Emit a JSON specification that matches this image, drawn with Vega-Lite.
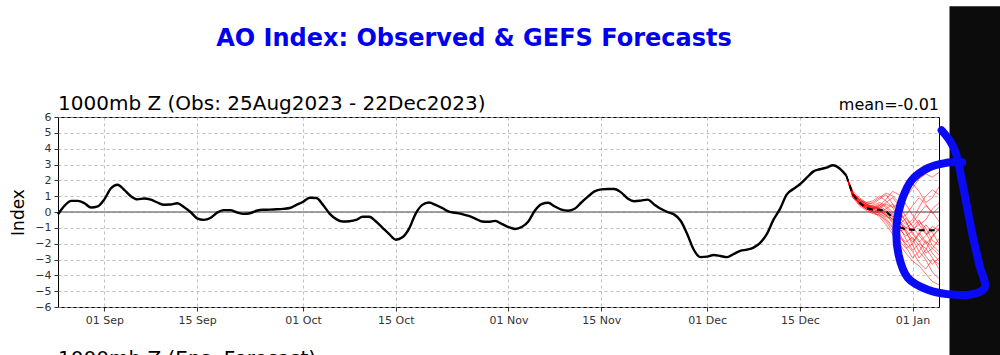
{
"$schema": "https://vega.github.io/schema/vega-lite/v6.json",
"width": 881, "height": 190,
"autosize": {"type": "none"},
"padding": {"left": 58, "top": 117, "right": 61, "bottom": 48},
"background": "white",
"config": {"view": {"stroke": "#000", "strokeWidth": 1, "fill": "white"}, "font": "DejaVu Sans"},
"datasets": {
"obs": [
{"d":"2023-08-25","v":-0.15},{"d":"2023-08-26","v":0.4},{"d":"2023-08-27","v":0.7},{"d":"2023-08-28","v":0.7},{"d":"2023-08-29","v":0.55},{"d":"2023-08-30","v":0.28},{"d":"2023-08-31","v":0.35},
{"d":"2023-09-01","v":0.8},{"d":"2023-09-02","v":1.5},{"d":"2023-09-03","v":1.72},{"d":"2023-09-04","v":1.4},{"d":"2023-09-05","v":1.0},{"d":"2023-09-06","v":0.8},{"d":"2023-09-07","v":0.85},{"d":"2023-09-08","v":0.78},{"d":"2023-09-09","v":0.6},{"d":"2023-09-10","v":0.46},{"d":"2023-09-11","v":0.47},{"d":"2023-09-12","v":0.55},{"d":"2023-09-13","v":0.32},{"d":"2023-09-14","v":0.0},{"d":"2023-09-15","v":-0.4},{"d":"2023-09-16","v":-0.5},{"d":"2023-09-17","v":-0.38},{"d":"2023-09-18","v":-0.05},{"d":"2023-09-19","v":0.12},{"d":"2023-09-20","v":0.12},{"d":"2023-09-21","v":-0.02},{"d":"2023-09-22","v":-0.12},{"d":"2023-09-23","v":-0.08},{"d":"2023-09-24","v":0.08},{"d":"2023-09-25","v":0.14},{"d":"2023-09-26","v":0.15},{"d":"2023-09-27","v":0.17},{"d":"2023-09-28","v":0.2},{"d":"2023-09-29","v":0.25},{"d":"2023-09-30","v":0.45},
{"d":"2023-10-01","v":0.65},{"d":"2023-10-02","v":0.9},{"d":"2023-10-03","v":0.88},{"d":"2023-10-04","v":0.45},{"d":"2023-10-05","v":-0.1},{"d":"2023-10-06","v":-0.45},{"d":"2023-10-07","v":-0.6},{"d":"2023-10-08","v":-0.58},{"d":"2023-10-09","v":-0.5},{"d":"2023-10-10","v":-0.3},{"d":"2023-10-11","v":-0.3},{"d":"2023-10-12","v":-0.6},{"d":"2023-10-13","v":-1.0},{"d":"2023-10-14","v":-1.4},{"d":"2023-10-15","v":-1.75},{"d":"2023-10-16","v":-1.6},{"d":"2023-10-17","v":-1.05},{"d":"2023-10-18","v":-0.1},{"d":"2023-10-19","v":0.45},{"d":"2023-10-20","v":0.6},{"d":"2023-10-21","v":0.45},{"d":"2023-10-22","v":0.25},{"d":"2023-10-23","v":0.03},{"d":"2023-10-24","v":-0.05},{"d":"2023-10-25","v":-0.13},{"d":"2023-10-26","v":-0.25},{"d":"2023-10-27","v":-0.42},{"d":"2023-10-28","v":-0.6},{"d":"2023-10-29","v":-0.62},{"d":"2023-10-30","v":-0.56},{"d":"2023-10-31","v":-0.75},
{"d":"2023-11-01","v":-0.95},{"d":"2023-11-02","v":-1.07},{"d":"2023-11-03","v":-0.95},{"d":"2023-11-04","v":-0.6},{"d":"2023-11-05","v":0.1},{"d":"2023-11-06","v":0.5},{"d":"2023-11-07","v":0.58},{"d":"2023-11-08","v":0.35},{"d":"2023-11-09","v":0.15},{"d":"2023-11-10","v":0.08},{"d":"2023-11-11","v":0.2},{"d":"2023-11-12","v":0.6},{"d":"2023-11-13","v":0.97},{"d":"2023-11-14","v":1.3},{"d":"2023-11-15","v":1.43},{"d":"2023-11-16","v":1.45},{"d":"2023-11-17","v":1.45},{"d":"2023-11-18","v":1.24},{"d":"2023-11-19","v":0.86},{"d":"2023-11-20","v":0.68},{"d":"2023-11-21","v":0.72},{"d":"2023-11-22","v":0.78},{"d":"2023-11-23","v":0.48},{"d":"2023-11-24","v":0.2},{"d":"2023-11-25","v":0.0},{"d":"2023-11-26","v":-0.15},{"d":"2023-11-27","v":-0.55},{"d":"2023-11-28","v":-1.4},{"d":"2023-11-29","v":-2.4},{"d":"2023-11-30","v":-2.85},
{"d":"2023-12-01","v":-2.82},{"d":"2023-12-02","v":-2.72},{"d":"2023-12-03","v":-2.78},{"d":"2023-12-04","v":-2.85},{"d":"2023-12-05","v":-2.65},{"d":"2023-12-06","v":-2.45},{"d":"2023-12-07","v":-2.38},{"d":"2023-12-08","v":-2.25},{"d":"2023-12-09","v":-1.95},{"d":"2023-12-10","v":-1.4},{"d":"2023-12-11","v":-0.5},{"d":"2023-12-12","v":0.2},{"d":"2023-12-13","v":1.1},{"d":"2023-12-14","v":1.45},{"d":"2023-12-15","v":1.75},{"d":"2023-12-16","v":2.15},{"d":"2023-12-17","v":2.55},{"d":"2023-12-18","v":2.7},{"d":"2023-12-19","v":2.8},{"d":"2023-12-20","v":2.95},{"d":"2023-12-21","v":2.75},{"d":"2023-12-22","v":2.3}
],
"mean": [
{"d":"2023-12-22","v":2.3},{"d":"2023-12-23","v":1.1},{"d":"2023-12-24","v":0.6},{"d":"2023-12-25","v":0.25},{"d":"2023-12-26","v":0.15},{"d":"2023-12-27","v":0.15},{"d":"2023-12-28","v":0.05},{"d":"2023-12-29","v":-0.35},{"d":"2023-12-30","v":-0.95},{"d":"2023-12-31","v":-1.1},{"d":"2024-01-01","v":-1.12},{"d":"2024-01-02","v":-1.15},{"d":"2024-01-03","v":-1.15},{"d":"2024-01-04","v":-1.15},{"d":"2024-01-05","v":-1.15}
],
"ens": [
{"m":"e1","d":"2023-12-22","v":2.3},{"m":"e1","d":"2023-12-23","v":1.2},{"m":"e1","d":"2023-12-24","v":0.8},{"m":"e1","d":"2023-12-25","v":0.5},{"m":"e1","d":"2023-12-26","v":0.6},{"m":"e1","d":"2023-12-27","v":0.9},{"m":"e1","d":"2023-12-28","v":1.2},{"m":"e1","d":"2023-12-29","v":1.0},{"m":"e1","d":"2023-12-30","v":0.6},{"m":"e1","d":"2023-12-31","v":0.9},{"m":"e1","d":"2024-01-01","v":1.5},{"m":"e1","d":"2024-01-02","v":2.1},{"m":"e1","d":"2024-01-03","v":2.4},{"m":"e1","d":"2024-01-04","v":2.2},{"m":"e1","d":"2024-01-05","v":2.5},
{"m":"e2","d":"2023-12-22","v":2.3},{"m":"e2","d":"2023-12-23","v":1.1},{"m":"e2","d":"2023-12-24","v":0.6},{"m":"e2","d":"2023-12-25","v":0.3},{"m":"e2","d":"2023-12-26","v":0.2},{"m":"e2","d":"2023-12-27","v":0.4},{"m":"e2","d":"2023-12-28","v":0.8},{"m":"e2","d":"2023-12-29","v":1.3},{"m":"e2","d":"2023-12-30","v":1.1},{"m":"e2","d":"2023-12-31","v":0.5},{"m":"e2","d":"2024-01-01","v":-0.2},{"m":"e2","d":"2024-01-02","v":-0.8},{"m":"e2","d":"2024-01-03","v":-0.5},{"m":"e2","d":"2024-01-04","v":0.2},{"m":"e2","d":"2024-01-05","v":0.6},
{"m":"e3","d":"2023-12-22","v":2.3},{"m":"e3","d":"2023-12-23","v":1.0},{"m":"e3","d":"2023-12-24","v":0.5},{"m":"e3","d":"2023-12-25","v":0.2},{"m":"e3","d":"2023-12-26","v":0.0},{"m":"e3","d":"2023-12-27","v":-0.3},{"m":"e3","d":"2023-12-28","v":-0.8},{"m":"e3","d":"2023-12-29","v":-1.4},{"m":"e3","d":"2023-12-30","v":-2.0},{"m":"e3","d":"2023-12-31","v":-2.6},{"m":"e3","d":"2024-01-01","v":-3.1},{"m":"e3","d":"2024-01-02","v":-3.4},{"m":"e3","d":"2024-01-03","v":-3.9},{"m":"e3","d":"2024-01-04","v":-4.4},{"m":"e3","d":"2024-01-05","v":-4.6},
{"m":"e4","d":"2023-12-22","v":2.3},{"m":"e4","d":"2023-12-23","v":1.2},{"m":"e4","d":"2023-12-24","v":0.7},{"m":"e4","d":"2023-12-25","v":0.4},{"m":"e4","d":"2023-12-26","v":0.3},{"m":"e4","d":"2023-12-27","v":0.1},{"m":"e4","d":"2023-12-28","v":-0.2},{"m":"e4","d":"2023-12-29","v":-0.6},{"m":"e4","d":"2023-12-30","v":-1.1},{"m":"e4","d":"2023-12-31","v":-1.5},{"m":"e4","d":"2024-01-01","v":-1.2},{"m":"e4","d":"2024-01-02","v":-0.6},{"m":"e4","d":"2024-01-03","v":-1.0},{"m":"e4","d":"2024-01-04","v":-1.8},{"m":"e4","d":"2024-01-05","v":-2.1},
{"m":"e5","d":"2023-12-22","v":2.3},{"m":"e5","d":"2023-12-23","v":1.0},{"m":"e5","d":"2023-12-24","v":0.6},{"m":"e5","d":"2023-12-25","v":0.3},{"m":"e5","d":"2023-12-26","v":0.2},{"m":"e5","d":"2023-12-27","v":0.3},{"m":"e5","d":"2023-12-28","v":0.0},{"m":"e5","d":"2023-12-29","v":-0.5},{"m":"e5","d":"2023-12-30","v":-1.3},{"m":"e5","d":"2023-12-31","v":-2.2},{"m":"e5","d":"2024-01-01","v":-2.9},{"m":"e5","d":"2024-01-02","v":-2.5},{"m":"e5","d":"2024-01-03","v":-1.8},{"m":"e5","d":"2024-01-04","v":-2.3},{"m":"e5","d":"2024-01-05","v":-2.7},
{"m":"e6","d":"2023-12-22","v":2.3},{"m":"e6","d":"2023-12-23","v":1.3},{"m":"e6","d":"2023-12-24","v":0.9},{"m":"e6","d":"2023-12-25","v":0.6},{"m":"e6","d":"2023-12-26","v":0.5},{"m":"e6","d":"2023-12-27","v":0.8},{"m":"e6","d":"2023-12-28","v":1.1},{"m":"e6","d":"2023-12-29","v":0.5},{"m":"e6","d":"2023-12-30","v":-0.3},{"m":"e6","d":"2023-12-31","v":-0.8},{"m":"e6","d":"2024-01-01","v":-0.5},{"m":"e6","d":"2024-01-02","v":0.3},{"m":"e6","d":"2024-01-03","v":1.0},{"m":"e6","d":"2024-01-04","v":1.4},{"m":"e6","d":"2024-01-05","v":1.1},
{"m":"e7","d":"2023-12-22","v":2.3},{"m":"e7","d":"2023-12-23","v":0.9},{"m":"e7","d":"2023-12-24","v":0.4},{"m":"e7","d":"2023-12-25","v":0.1},{"m":"e7","d":"2023-12-26","v":-0.1},{"m":"e7","d":"2023-12-27","v":-0.2},{"m":"e7","d":"2023-12-28","v":-0.5},{"m":"e7","d":"2023-12-29","v":-1.0},{"m":"e7","d":"2023-12-30","v":-1.6},{"m":"e7","d":"2023-12-31","v":-2.0},{"m":"e7","d":"2024-01-01","v":-2.5},{"m":"e7","d":"2024-01-02","v":-3.2},{"m":"e7","d":"2024-01-03","v":-3.6},{"m":"e7","d":"2024-01-04","v":-3.0},{"m":"e7","d":"2024-01-05","v":-3.3},
{"m":"e8","d":"2023-12-22","v":2.3},{"m":"e8","d":"2023-12-23","v":1.1},{"m":"e8","d":"2023-12-24","v":0.7},{"m":"e8","d":"2023-12-25","v":0.4},{"m":"e8","d":"2023-12-26","v":0.2},{"m":"e8","d":"2023-12-27","v":0.0},{"m":"e8","d":"2023-12-28","v":0.2},{"m":"e8","d":"2023-12-29","v":0.5},{"m":"e8","d":"2023-12-30","v":0.1},{"m":"e8","d":"2023-12-31","v":-0.6},{"m":"e8","d":"2024-01-01","v":-1.4},{"m":"e8","d":"2024-01-02","v":-1.9},{"m":"e8","d":"2024-01-03","v":-1.5},{"m":"e8","d":"2024-01-04","v":-0.9},{"m":"e8","d":"2024-01-05","v":-1.2},
{"m":"e9","d":"2023-12-22","v":2.3},{"m":"e9","d":"2023-12-23","v":1.2},{"m":"e9","d":"2023-12-24","v":0.8},{"m":"e9","d":"2023-12-25","v":0.5},{"m":"e9","d":"2023-12-26","v":0.4},{"m":"e9","d":"2023-12-27","v":0.6},{"m":"e9","d":"2023-12-28","v":0.4},{"m":"e9","d":"2023-12-29","v":0.0},{"m":"e9","d":"2023-12-30","v":-0.4},{"m":"e9","d":"2023-12-31","v":-0.2},{"m":"e9","d":"2024-01-01","v":0.4},{"m":"e9","d":"2024-01-02","v":0.9},{"m":"e9","d":"2024-01-03","v":0.5},{"m":"e9","d":"2024-01-04","v":-0.1},{"m":"e9","d":"2024-01-05","v":0.3},
{"m":"e10","d":"2023-12-22","v":2.3},{"m":"e10","d":"2023-12-23","v":1.0},{"m":"e10","d":"2023-12-24","v":0.5},{"m":"e10","d":"2023-12-25","v":0.2},{"m":"e10","d":"2023-12-26","v":0.1},{"m":"e10","d":"2023-12-27","v":-0.1},{"m":"e10","d":"2023-12-28","v":-0.4},{"m":"e10","d":"2023-12-29","v":-0.9},{"m":"e10","d":"2023-12-30","v":-1.5},{"m":"e10","d":"2023-12-31","v":-1.9},{"m":"e10","d":"2024-01-01","v":-1.6},{"m":"e10","d":"2024-01-02","v":-2.1},{"m":"e10","d":"2024-01-03","v":-2.8},{"m":"e10","d":"2024-01-04","v":-3.3},{"m":"e10","d":"2024-01-05","v":-2.9},
{"m":"e11","d":"2023-12-22","v":2.3},{"m":"e11","d":"2023-12-23","v":1.1},{"m":"e11","d":"2023-12-24","v":0.6},{"m":"e11","d":"2023-12-25","v":0.3},{"m":"e11","d":"2023-12-26","v":0.3},{"m":"e11","d":"2023-12-27","v":0.5},{"m":"e11","d":"2023-12-28","v":0.3},{"m":"e11","d":"2023-12-29","v":-0.2},{"m":"e11","d":"2023-12-30","v":-0.7},{"m":"e11","d":"2023-12-31","v":-1.0},{"m":"e11","d":"2024-01-01","v":-0.7},{"m":"e11","d":"2024-01-02","v":-0.1},{"m":"e11","d":"2024-01-03","v":0.4},{"m":"e11","d":"2024-01-04","v":0.0},{"m":"e11","d":"2024-01-05","v":-0.6},
{"m":"e12","d":"2023-12-22","v":2.3},{"m":"e12","d":"2023-12-23","v":1.0},{"m":"e12","d":"2023-12-24","v":0.6},{"m":"e12","d":"2023-12-25","v":0.3},{"m":"e12","d":"2023-12-26","v":0.1},{"m":"e12","d":"2023-12-27","v":-0.1},{"m":"e12","d":"2023-12-28","v":-0.3},{"m":"e12","d":"2023-12-29","v":-0.4},{"m":"e12","d":"2023-12-30","v":-0.9},{"m":"e12","d":"2023-12-31","v":-1.7},{"m":"e12","d":"2024-01-01","v":-2.4},{"m":"e12","d":"2024-01-02","v":-2.0},{"m":"e12","d":"2024-01-03","v":-2.3},{"m":"e12","d":"2024-01-04","v":-2.9},{"m":"e12","d":"2024-01-05","v":-3.6},
{"m":"e13","d":"2023-12-22","v":2.3},{"m":"e13","d":"2023-12-23","v":1.2},{"m":"e13","d":"2023-12-24","v":0.8},{"m":"e13","d":"2023-12-25","v":0.6},{"m":"e13","d":"2023-12-26","v":0.7},{"m":"e13","d":"2023-12-27","v":1.0},{"m":"e13","d":"2023-12-28","v":0.7},{"m":"e13","d":"2023-12-29","v":0.3},{"m":"e13","d":"2023-12-30","v":0.6},{"m":"e13","d":"2023-12-31","v":1.2},{"m":"e13","d":"2024-01-01","v":1.8},{"m":"e13","d":"2024-01-02","v":1.3},{"m":"e13","d":"2024-01-03","v":0.6},{"m":"e13","d":"2024-01-04","v":0.9},{"m":"e13","d":"2024-01-05","v":1.6},
{"m":"e14","d":"2023-12-22","v":2.3},{"m":"e14","d":"2023-12-23","v":1.1},{"m":"e14","d":"2023-12-24","v":0.6},{"m":"e14","d":"2023-12-25","v":0.4},{"m":"e14","d":"2023-12-26","v":0.2},{"m":"e14","d":"2023-12-27","v":0.2},{"m":"e14","d":"2023-12-28","v":0.0},{"m":"e14","d":"2023-12-29","v":-0.3},{"m":"e14","d":"2023-12-30","v":-0.1},{"m":"e14","d":"2023-12-31","v":-0.6},{"m":"e14","d":"2024-01-01","v":-1.3},{"m":"e14","d":"2024-01-02","v":-1.8},{"m":"e14","d":"2024-01-03","v":-2.6},{"m":"e14","d":"2024-01-04","v":-2.3},{"m":"e14","d":"2024-01-05","v":-1.7},
{"m":"e15","d":"2023-12-22","v":2.3},{"m":"e15","d":"2023-12-23","v":0.9},{"m":"e15","d":"2023-12-24","v":0.5},{"m":"e15","d":"2023-12-25","v":0.2},{"m":"e15","d":"2023-12-26","v":0.0},{"m":"e15","d":"2023-12-27","v":0.1},{"m":"e15","d":"2023-12-28","v":-0.2},{"m":"e15","d":"2023-12-29","v":-0.7},{"m":"e15","d":"2023-12-30","v":-1.2},{"m":"e15","d":"2023-12-31","v":-1.1},{"m":"e15","d":"2024-01-01","v":-1.7},{"m":"e15","d":"2024-01-02","v":-2.5},{"m":"e15","d":"2024-01-03","v":-3.0},{"m":"e15","d":"2024-01-04","v":-3.8},{"m":"e15","d":"2024-01-05","v":-4.2},
{"m":"e16","d":"2023-12-22","v":2.3},{"m":"e16","d":"2023-12-23","v":1.1},{"m":"e16","d":"2023-12-24","v":0.7},{"m":"e16","d":"2023-12-25","v":0.5},{"m":"e16","d":"2023-12-26","v":0.3},{"m":"e16","d":"2023-12-27","v":0.2},{"m":"e16","d":"2023-12-28","v":0.5},{"m":"e16","d":"2023-12-29","v":0.3},{"m":"e16","d":"2023-12-30","v":-0.5},{"m":"e16","d":"2023-12-31","v":-1.3},{"m":"e16","d":"2024-01-01","v":-1.9},{"m":"e16","d":"2024-01-02","v":-1.4},{"m":"e16","d":"2024-01-03","v":-0.8},{"m":"e16","d":"2024-01-04","v":-1.3},{"m":"e16","d":"2024-01-05","v":-2.0},
{"m":"e17","d":"2023-12-22","v":2.3},{"m":"e17","d":"2023-12-23","v":1.2},{"m":"e17","d":"2023-12-24","v":0.7},{"m":"e17","d":"2023-12-25","v":0.4},{"m":"e17","d":"2023-12-26","v":0.4},{"m":"e17","d":"2023-12-27","v":0.2},{"m":"e17","d":"2023-12-28","v":-0.1},{"m":"e17","d":"2023-12-29","v":-0.5},{"m":"e17","d":"2023-12-30","v":-0.8},{"m":"e17","d":"2023-12-31","v":-0.4},{"m":"e17","d":"2024-01-01","v":-0.9},{"m":"e17","d":"2024-01-02","v":-1.5},{"m":"e17","d":"2024-01-03","v":-2.0},{"m":"e17","d":"2024-01-04","v":-1.6},{"m":"e17","d":"2024-01-05","v":-1.0},
{"m":"e18","d":"2023-12-22","v":2.3},{"m":"e18","d":"2023-12-23","v":1.0},{"m":"e18","d":"2023-12-24","v":0.6},{"m":"e18","d":"2023-12-25","v":0.4},{"m":"e18","d":"2023-12-26","v":0.3},{"m":"e18","d":"2023-12-27","v":0.3},{"m":"e18","d":"2023-12-28","v":0.6},{"m":"e18","d":"2023-12-29","v":0.9},{"m":"e18","d":"2023-12-30","v":0.4},{"m":"e18","d":"2023-12-31","v":-0.3},{"m":"e18","d":"2024-01-01","v":-0.9},{"m":"e18","d":"2024-01-02","v":-0.5},{"m":"e18","d":"2024-01-03","v":-1.3},{"m":"e18","d":"2024-01-04","v":-2.1},{"m":"e18","d":"2024-01-05","v":-2.5},
{"m":"e19","d":"2023-12-22","v":2.3},{"m":"e19","d":"2023-12-23","v":1.1},{"m":"e19","d":"2023-12-24","v":0.5},{"m":"e19","d":"2023-12-25","v":0.2},{"m":"e19","d":"2023-12-26","v":0.0},{"m":"e19","d":"2023-12-27","v":-0.2},{"m":"e19","d":"2023-12-28","v":-0.6},{"m":"e19","d":"2023-12-29","v":-1.2},{"m":"e19","d":"2023-12-30","v":-1.8},{"m":"e19","d":"2023-12-31","v":-2.3},{"m":"e19","d":"2024-01-01","v":-2.0},{"m":"e19","d":"2024-01-02","v":-1.3},{"m":"e19","d":"2024-01-03","v":-1.9},{"m":"e19","d":"2024-01-04","v":-2.6},{"m":"e19","d":"2024-01-05","v":-3.1},
{"m":"e20","d":"2023-12-22","v":2.3},{"m":"e20","d":"2023-12-23","v":1.2},{"m":"e20","d":"2023-12-24","v":0.8},{"m":"e20","d":"2023-12-25","v":0.5},{"m":"e20","d":"2023-12-26","v":0.3},{"m":"e20","d":"2023-12-27","v":0.4},{"m":"e20","d":"2023-12-28","v":0.1},{"m":"e20","d":"2023-12-29","v":-0.3},{"m":"e20","d":"2023-12-30","v":-0.6},{"m":"e20","d":"2023-12-31","v":-1.2},{"m":"e20","d":"2024-01-01","v":-2.1},{"m":"e20","d":"2024-01-02","v":-2.9},{"m":"e20","d":"2024-01-03","v":-2.4},{"m":"e20","d":"2024-01-04","v":-1.5},{"m":"e20","d":"2024-01-05","v":-1.1},
{"m":"e21","d":"2023-12-22","v":2.3},{"m":"e21","d":"2023-12-23","v":1.0},{"m":"e21","d":"2023-12-24","v":0.6},{"m":"e21","d":"2023-12-25","v":0.3},{"m":"e21","d":"2023-12-26","v":0.2},{"m":"e21","d":"2023-12-27","v":0.0},{"m":"e21","d":"2023-12-28","v":-0.2},{"m":"e21","d":"2023-12-29","v":-0.1},{"m":"e21","d":"2023-12-30","v":-0.5},{"m":"e21","d":"2023-12-31","v":-1.0},{"m":"e21","d":"2024-01-01","v":-1.1},{"m":"e21","d":"2024-01-02","v":-0.8},{"m":"e21","d":"2024-01-03","v":-1.4},{"m":"e21","d":"2024-01-04","v":-1.2},{"m":"e21","d":"2024-01-05","v":-0.8}
],
"zero": [{"d":"2023-08-25","v":0},{"d":"2024-01-05","v":0}],
"bar": [{"d":"2024-01-06T14:00:00Z","d2":"2024-01-25","v":13,"v2":-12}],
"blue": [
{"i":1,"d":"2024-01-05T09:36:00Z","v":5.16},{"i":2,"d":"2024-01-06T14:24:00Z","v":4.53},{"i":3,"d":"2024-01-07T12:00:00Z","v":3.78},{"i":4,"d":"2024-01-08T14:24:00Z","v":1.7},{"i":5,"d":"2024-01-09T21:36:00Z","v":-1.13},{"i":6,"d":"2024-01-11T02:24:00Z","v":-3.34},{"i":7,"d":"2024-01-11T21:36:00Z","v":-4.79},{"i":8,"d":"2024-01-10T09:36:00Z","v":-5.16},{"i":9,"d":"2024-01-07T09:36:00Z","v":-5.23},{"i":10,"d":"2024-01-03T07:12:00Z","v":-4.91},{"i":11,"d":"2023-12-31T07:12:00Z","v":-4.16},{"i":12,"d":"2023-12-29T21:36:00Z","v":-2.71},{"i":13,"d":"2023-12-29T14:24:00Z","v":-0.82},{"i":14,"d":"2023-12-30T09:36:00Z","v":0.76},{"i":15,"d":"2023-12-31T21:36:00Z","v":2.02},{"i":16,"d":"2024-01-03T07:12:00Z","v":2.77},{"i":17,"d":"2024-01-05T21:36:00Z","v":3.09},{"i":18,"d":"2024-01-08T12:00:00Z","v":3.15}
],
"lblT": [{"d":"2023-10-26T19:00:00Z","v":6,"t":"AO Index: Observed & GEFS Forecasts"}],
"lblL": [{"d":"2023-08-25","v":6,"t":"1000mb Z (Obs: 25Aug2023 - 22Dec2023)"}],
"lblR": [{"d":"2024-01-05","v":6,"t":"mean=-0.01"}],
"lblB": [{"d":"2023-08-25","v":-6,"t":"1000mb Z (Ens. Forecast)"}]
},
"encoding": {
"x": {"field": "d", "type": "temporal",
  "scale": {"type": "utc", "domain": [{"year": 2023, "month": 8, "date": 25, "utc": true}, {"year": 2024, "month": 1, "date": 5, "utc": true}], "nice": false},
  "axis": {"title": null, "format": "%d %b", "values": [
    {"year": 2023, "month": 9, "date": 1, "utc": true}, {"year": 2023, "month": 9, "date": 15, "utc": true},
    {"year": 2023, "month": 10, "date": 1, "utc": true}, {"year": 2023, "month": 10, "date": 15, "utc": true},
    {"year": 2023, "month": 11, "date": 1, "utc": true}, {"year": 2023, "month": 11, "date": 15, "utc": true},
    {"year": 2023, "month": 12, "date": 1, "utc": true}, {"year": 2023, "month": 12, "date": 15, "utc": true},
    {"year": 2024, "month": 1, "date": 1, "utc": true}],
    "grid": true, "gridDash": [3, 3], "gridColor": "#b0b0b0", "gridWidth": 0.8, "domain": false,
    "tickColor": "#000", "tickSize": 4, "tickWidth": 0.8, "labelFont": "DejaVu Sans", "labelFontSize": 11, "labelColor": "#333", "labelPadding": 3, "labelFlush": false}},
"y": {"field": "v", "type": "quantitative",
  "scale": {"domain": [-6, 6], "nice": false, "zero": false},
  "axis": {"title": "Index", "values": [-6,-5,-4,-3,-2,-1,0,1,2,3,4,5,6], "format": "d",
    "grid": true, "gridDash": [3, 3], "gridColor": "#b0b0b0", "gridWidth": 0.8, "domain": false,
    "tickColor": "#000", "tickSize": 4, "tickWidth": 0.8, "labelFont": "DejaVu Sans", "labelFontSize": 11, "labelColor": "#333", "labelPadding": 3,
    "titleFont": "DejaVu Sans", "titleFontSize": 17, "titleFontWeight": "normal", "titleColor": "#000", "titlePadding": 7}}
},
"layer": [
{"data": {"name": "bar"}, "mark": {"type": "rect", "color": "#0c0c0c"}, "encoding": {"x2": {"field": "d2"}, "y2": {"field": "v2"}}},
{"data": {"name": "zero"}, "mark": {"type": "line", "color": "#808080", "strokeWidth": 1.3}},
{"data": {"name": "ens"}, "mark": {"type": "line", "color": "#ff0000", "strokeWidth": 0.7, "opacity": 0.75}, "encoding": {"detail": {"field": "m"}}},
{"data": {"name": "obs"}, "mark": {"type": "line", "color": "#000", "strokeWidth": 2.4, "interpolate": "monotone"}},
{"data": {"name": "mean"}, "mark": {"type": "line", "color": "#000", "strokeWidth": 2, "strokeDash": [6, 4]}},
{"data": {"name": "lblT"}, "mark": {"type": "text", "align": "center", "baseline": "alphabetic", "dy": -71, "font": "DejaVu Sans", "fontSize": 24, "fontWeight": "bold", "color": "#0000ee"}, "encoding": {"text": {"field": "t"}}},
{"data": {"name": "lblL"}, "mark": {"type": "text", "align": "left", "baseline": "alphabetic", "dy": -7, "font": "DejaVu Sans", "fontSize": 20, "color": "#000"}, "encoding": {"text": {"field": "t"}}},
{"data": {"name": "lblR"}, "mark": {"type": "text", "align": "right", "baseline": "alphabetic", "dy": -7, "font": "DejaVu Sans", "fontSize": 16, "color": "#000"}, "encoding": {"text": {"field": "t"}}},
{"data": {"name": "lblB"}, "mark": {"type": "text", "align": "left", "baseline": "top", "dy": 42, "font": "DejaVu Sans", "fontSize": 20, "color": "#000"}, "encoding": {"text": {"field": "t"}}},
{"data": {"name": "blue"}, "mark": {"type": "line", "color": "#0a0af5", "strokeWidth": 8, "interpolate": "catmull-rom", "strokeCap": "round", "strokeJoin": "round"}, "encoding": {"order": {"field": "i", "type": "quantitative"}}}
]
}
